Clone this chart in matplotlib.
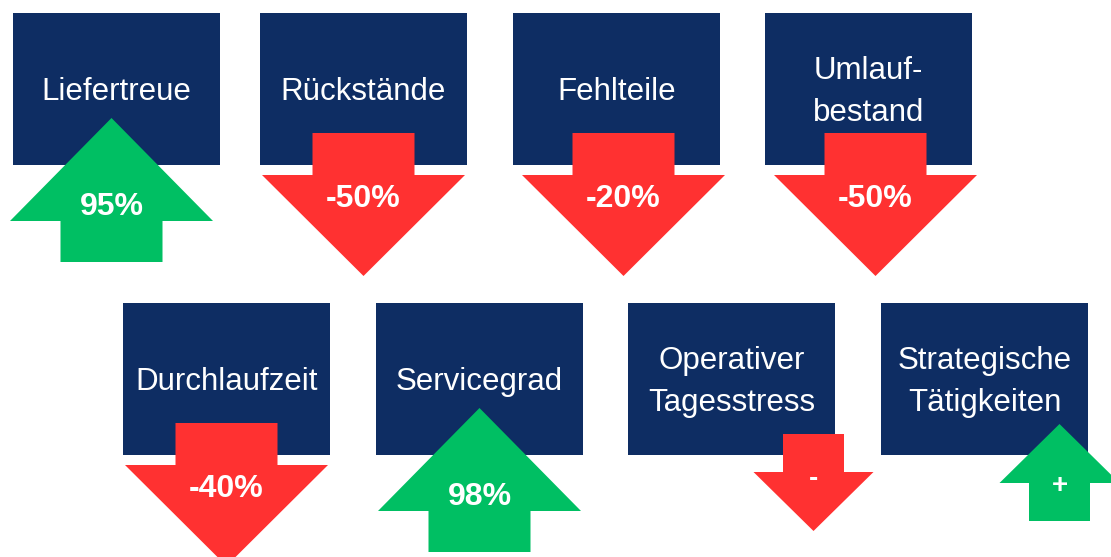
import matplotlib.pyplot as plt
from matplotlib.patches import Rectangle, Polygon

plt.rcParams['font.family'] = ['Liberation Sans', 'DejaVu Sans']

# data
labels = ['Liefertreue', 'Rückstände', 'Fehlteile', 'Umlauf-\nbestand',
          'Durchlaufzeit', 'Servicegrad', 'Operativer\nTagesstress', 'Strategische\nTätigkeiten']
values = ['95%', '-50%', '-20%', '-50%', '-40%', '98%', '-', '+']
direction = ['up', 'down', 'down', 'down', 'down', 'up', 'down', 'up']
small = [False, False, False, False, False, False, True, True]

# layout (pixels)
box_x = [13, 260, 513, 765, 123, 376, 628, 881]
box_y = [13, 13, 13, 13, 303, 303, 303, 303]
arrow_dx = [-5, 0, 7, 7, 0, 0, 82, 75]
box_w, box_h = 207, 152

navy = '#0E2D63'
green = '#00BF63'
red = '#FF3131'

fig = plt.figure(figsize=(11.11, 5.57), dpi=100)
ax = fig.add_axes([0, 0, 1, 1])
ax.set_xlim(0, 1111)
ax.set_ylim(557, 0)
ax.axis('off')


def arrow_pts(cx, top, d, is_small):
    if is_small:
        hw, sw = 60, 30.5
        if d == 'up':
            tip, base, bot = top + 121, top + 180, top + 218
        else:
            st, hd, tip = top + 131, top + 169, top + 228
    else:
        hw, sw = 101.5, 51
        if d == 'up':
            tip, base, bot = top + 105, top + 208, top + 249
        else:
            st, hd, tip = top + 120, top + 162, top + 263
    if d == 'up':
        return [(cx, tip), (cx + hw, base), (cx + sw, base), (cx + sw, bot),
                (cx - sw, bot), (cx - sw, base), (cx - hw, base)]
    return [(cx - sw, st), (cx + sw, st), (cx + sw, hd), (cx + hw, hd),
            (cx, tip), (cx - hw, hd), (cx - sw, hd)]


for i, lab in enumerate(labels):
    x0, y0 = box_x[i], box_y[i]
    ax.add_patch(Rectangle((x0, y0), box_w, box_h, color=navy, lw=0, zorder=1))
    ax.text(x0 + box_w / 2, y0 + box_h / 2 + 3, lab, color='white', fontsize=22.5,
            ha='center', va='center', linespacing=1.55, zorder=2)

    cx = x0 + box_w / 2 + arrow_dx[i]
    col = green if direction[i] == 'up' else red
    ax.add_patch(Polygon(arrow_pts(cx, y0, direction[i], small[i]), closed=True,
                         color=col, lw=0, zorder=3))
    if small[i]:
        ty = y0 + (183 if direction[i] == 'up' else 176)
        fs = 20
    else:
        ty = y0 + (194 if direction[i] == 'up' else 186)
        fs = 23
    ax.text(cx, ty, values[i], color='white', fontsize=fs, fontweight='bold',
            ha='center', va='center', zorder=4)

fig.savefig('out.png', dpi=100)
